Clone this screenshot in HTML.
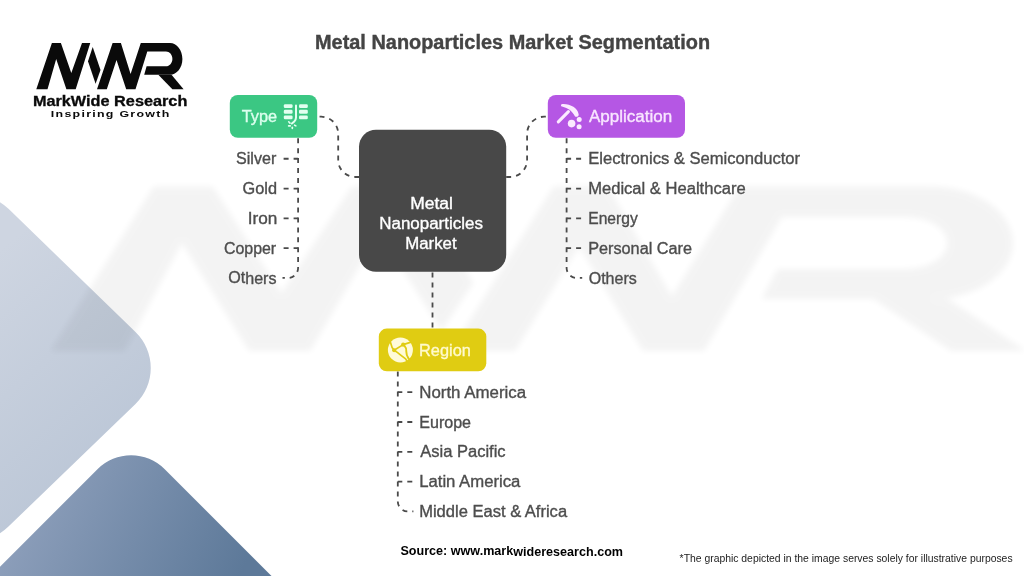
<!DOCTYPE html>
<html lang="en">
<head>
<meta charset="utf-8">
<title>Metal Nanoparticles Market Segmentation</title>
<style>
html,body{margin:0;padding:0;background:#fff;}
body{width:1024px;height:576px;overflow:hidden;position:relative;font-family:"Liberation Sans",sans-serif;}
svg{position:absolute;left:0;top:0;display:block;will-change:transform;}
text{font-family:"Liberation Sans",sans-serif;}
</style>
</head>
<body>
<svg width="1024" height="576" viewBox="0 0 1024 576">
<defs>
<linearGradient id="g1" gradientUnits="userSpaceOnUse" x1="0" y1="250" x2="150" y2="420">
<stop offset="0" stop-color="#ced5e1"/><stop offset="1" stop-color="#bcc7d7"/>
</linearGradient>
<linearGradient id="g2" gradientUnits="userSpaceOnUse" x1="40" y1="480" x2="240" y2="576">
<stop offset="0" stop-color="#8c9eba"/><stop offset="1" stop-color="#5d7999"/>
</linearGradient>
<filter id="blur" filterUnits="userSpaceOnUse" x="0" y="150" width="1024" height="240"><feGaussianBlur stdDeviation="3.2"/></filter>
</defs>
<rect width="1024" height="576" fill="#ffffff"/>

<path d="M-61.0 208.8 A50 50 0 0 1 8.5 208.8 L135.5 332.0 A50 50 0 0 1 135.5 403.9 L8.2 526.8 A50 50 0 0 1 -61.4 526.8 L-188.4 403.6 A50 50 0 0 1 -188.3 331.7 Z" fill="url(#g1)"/>
<path d="M-81.0 647.7 L97.7 469.0 A47.3 47.3 0 0 1 164.5 469.0 L343.2 647.7 L400 700 L-100 700 Z" fill="url(#g2)"/>
<g filter="url(#blur)" opacity="0.045"><g transform="matrix(6.5866 0 0 3.5546 -188.29 33.57)" fill="#000"><path d="M36.3 89.3 L51.9 43.05 L60.9 43.05 L71.3 73 L82 43.05 L90.25 43.05 L75.7 89.3 L66.4 89.3 L56.2 58.9 L47.5 89.3 Z"/>
<path d="M92.7 46.9 L100.5 70.1 L95.6 83.7 L88 61.3 Z"/>
<path d="M97 89.3 L112.6 43.05 L120.9 43.05 L130.6 74 L140.8 43.05 L170 43.05 C176.8 43.05 182.4 50.2 182.4 58.9 C182.4 67.6 176.8 74.7 170 74.7 L144.2 74.7 L146.6 66.2 L166 66.2 C169.5 66.2 172.4 63 172.4 58.9 C172.4 54.8 169.5 51.6 166 51.6 L147.3 51.6 L135.5 89.3 L126.2 89.3 L116.5 59.9 L106.8 89.3 Z"/>
<path d="M161.2 74.7 L172.5 74.7 L184.4 89.3 L173 89.3 Z"/></g></g>
<g fill="#0a0a0a" role="img" aria-label="MWR logo"><path d="M36.3 89.3 L51.9 43.05 L60.9 43.05 L71.3 73 L82 43.05 L90.25 43.05 L75.7 89.3 L66.4 89.3 L56.2 58.9 L47.5 89.3 Z"/>
<path d="M92.7 46.9 L100.5 70.1 L95.6 83.7 L88 61.3 Z"/>
<path d="M97 89.3 L112.6 43.05 L120.9 43.05 L130.6 74 L140.8 43.05 L170 43.05 C176.8 43.05 182.4 50.2 182.4 58.9 C182.4 67.6 176.8 74.7 170 74.7 L144.2 74.7 L146.6 66.2 L166 66.2 C169.5 66.2 172.4 63 172.4 58.9 C172.4 54.8 169.5 51.6 166 51.6 L147.3 51.6 L135.5 89.3 L126.2 89.3 L116.5 59.9 L106.8 89.3 Z"/>
<path d="M158.3 74.7 L171.5 74.7 L183.6 89.3 L172.4 89.3 Z"/></g>
<g fill="none" stroke="#4a4a4a" stroke-width="1.8" stroke-dasharray="5 5">
<path d="M359.2 177 H355.2 A17 17 0 0 1 338.2 160 V133.7 A17 17 0 0 0 321.2 116.7 H319.3"/>
<path d="M506.2 177 H510.2 A17 17 0 0 0 527.1 160 V133.7 A17 17 0 0 1 544.1 116.7 H546"/>
<path d="M432.5 272.5 V329"/>
<path d="M298.1 138.3 V267.95 A10 10 0 0 1 288.10 277.95 H282.50" stroke-dasharray="5 4.9"/>
<path d="M283.6 158.75 H298.1"/>
<path d="M283.6 188.55 H298.1"/>
<path d="M283.6 218.35 H298.1"/>
<path d="M283.6 248.15 H298.1"/>
<path d="M566.6 138.3 V267.95 A10 10 0 0 0 576.60 277.95 H582.20" stroke-dasharray="5 4.9"/>
<path d="M581.1 158.75 H566.6"/>
<path d="M581.1 188.55 H566.6"/>
<path d="M581.1 218.35 H566.6"/>
<path d="M581.1 248.15 H566.6"/>
<path d="M397.8 371.5 V501.40 A10 10 0 0 0 407.80 511.4 H413.40"/>
<path d="M412.3 392.2 H397.8"/>
<path d="M412.3 422.0 H397.8"/>
<path d="M412.3 451.8 H397.8"/>
<path d="M412.3 481.6 H397.8"/>
</g>
<rect x="359" y="129.7" width="147.2" height="142" rx="17" fill="#484848"/>
<rect x="229.8" y="95" width="87.4" height="42.8" rx="8" fill="#3bc783"/>
<rect x="547.8" y="95" width="137.2" height="42.8" rx="8" fill="#b557e4"/>
<rect x="378.8" y="328.6" width="107.5" height="42.7" rx="8" fill="#e0cc12"/>
<g fill="#e2fff0">
<rect x="283.8" y="104.2" width="8.8" height="3.9" rx="1.3"/>
<rect x="283.8" y="109.8" width="8.8" height="3.9" rx="1.3"/>
<rect x="283.8" y="115.4" width="8.8" height="3.9" rx="1.3"/>
<rect x="299.0" y="104.2" width="8.8" height="3.9" rx="1.3"/>
<rect x="299.0" y="109.8" width="8.8" height="3.9" rx="1.3"/>
<rect x="299.0" y="115.4" width="8.8" height="3.9" rx="1.3"/>
<path d="M296 105.6 V117.4 Q296 119.8 294.3 121.4 L291.9 123.6" fill="none" stroke="#e2fff0" stroke-width="2" stroke-linecap="round"/>
<g fill="none" stroke="#e2fff0" stroke-width="1.6" stroke-linecap="round"><path d="M288.7 121.8 L290 123.1"/><path d="M288.6 125.9 H290.3"/><path d="M292.3 127.2 V128.5"/><path d="M294.6 125.2 L295.9 125.9"/></g>
</g>
<g fill="#fbeaff">
<path d="M561.6 104.2 C569.5 103.4 577.6 107.8 578.7 114.4 C579 116.4 576.2 117.6 574.9 116.3 C572.6 111.6 568.2 108 562 106.6 C560.7 106.2 560.6 104.6 561.6 104.2 Z"/>
<path d="M568.4 111.7 L558.3 121.9" fill="none" stroke="#fbeaff" stroke-width="3.1" stroke-linecap="round"/>
<circle cx="571.6" cy="123.6" r="3.8"/><circle cx="579.2" cy="119.6" r="2.5"/><circle cx="579.1" cy="126.8" r="2.5"/>
</g>
<circle cx="400.4" cy="350" r="12.5" fill="#fffbd8"/>
<g fill="none" stroke="#e0cc12" stroke-width="1.7" stroke-linecap="round" stroke-linejoin="round">
<path d="M390.2 341.6 L392.1 347.4 L394.1 350.2 L403.2 344.6 L410.2 342.4"/>
<path d="M404.4 345.6 Q406.6 348 406.3 351.5 Q406.2 355 408.6 358.6 L410.4 360.2" stroke-width="1.9"/>
<path d="M394.1 350.2 L397.3 352.4 L400.7 355.1 L405.6 358.9 L407.4 361.8"/>
</g>
<circle cx="403.2" cy="344.7" r="2.1" fill="#e0cc12"/><circle cx="394.1" cy="350.2" r="2" fill="#e0cc12"/>
<g transform="rotate(0.02 512 288)">
<text x="32.84" y="106.4" font-size="14.0" fill="#0a0a0a" stroke="#0a0a0a" stroke-width="0.3" font-weight="bold" textLength="154.45" lengthAdjust="spacingAndGlyphs">MarkWide Research</text>
<text x="50.75" y="116.9" font-size="9.6" fill="#0a0a0a" font-weight="bold" letter-spacing="1.0" textLength="119.7" lengthAdjust="spacingAndGlyphs">Inspiring Growth</text>
<text x="314.92" y="49.0" font-size="20.3" fill="#444444" stroke="#444444" stroke-width="0.4" font-weight="bold" textLength="395.07" lengthAdjust="spacingAndGlyphs">Metal Nanoparticles Market Segmentation</text>
<text x="241.7" y="122.25" font-size="16.0" fill="#dcffee" stroke="#dcffee" stroke-width="0.35" textLength="35.3" lengthAdjust="spacingAndGlyphs">Type</text>
<text x="588.9" y="122.25" font-size="16.0" fill="#f9e6ff" stroke="#f9e6ff" stroke-width="0.35" textLength="83.17" lengthAdjust="spacingAndGlyphs">Application</text>
<text x="419.08" y="355.75" font-size="16.0" fill="#fffacc" stroke="#fffacc" stroke-width="0.35" textLength="51.75" lengthAdjust="spacingAndGlyphs">Region</text>
<text x="410.21" y="209.2" font-size="16.0" fill="#ffffff" stroke="#ffffff" stroke-width="0.35" textLength="42.72" lengthAdjust="spacingAndGlyphs">Metal</text>
<text x="379.24" y="229.2" font-size="16.0" fill="#ffffff" stroke="#ffffff" stroke-width="0.35" textLength="103.61" lengthAdjust="spacingAndGlyphs">Nanoparticles</text>
<text x="405.25" y="248.7" font-size="16.0" fill="#ffffff" stroke="#ffffff" stroke-width="0.35" textLength="51.34" lengthAdjust="spacingAndGlyphs">Market</text>
<text x="235.99" y="164.4" font-size="16.0" fill="#4d4d4d" stroke="#4d4d4d" stroke-width="0.35" textLength="40.21" lengthAdjust="spacingAndGlyphs">Silver</text>
<text x="242.59" y="194.2" font-size="16.0" fill="#4d4d4d" stroke="#4d4d4d" stroke-width="0.35" textLength="34.42" lengthAdjust="spacingAndGlyphs">Gold</text>
<text x="247.79" y="224.0" font-size="16.0" fill="#4d4d4d" stroke="#4d4d4d" stroke-width="0.35" textLength="29.56" lengthAdjust="spacingAndGlyphs">Iron</text>
<text x="223.9" y="253.8" font-size="16.0" fill="#4d4d4d" stroke="#4d4d4d" stroke-width="0.35" textLength="52.27" lengthAdjust="spacingAndGlyphs">Copper</text>
<text x="228.25" y="283.6" font-size="16.0" fill="#4d4d4d" stroke="#4d4d4d" stroke-width="0.35" textLength="48.27" lengthAdjust="spacingAndGlyphs">Others</text>
<text x="588.16" y="164.4" font-size="16.0" fill="#4d4d4d" stroke="#4d4d4d" stroke-width="0.35" textLength="211.87" lengthAdjust="spacingAndGlyphs">Electronics &amp; Semiconductor</text>
<text x="588.16" y="194.2" font-size="16.0" fill="#4d4d4d" stroke="#4d4d4d" stroke-width="0.35" textLength="157.43" lengthAdjust="spacingAndGlyphs">Medical &amp; Healthcare</text>
<text x="588.22" y="224.0" font-size="16.0" fill="#4d4d4d" stroke="#4d4d4d" stroke-width="0.35" textLength="49.48" lengthAdjust="spacingAndGlyphs">Energy</text>
<text x="588.18" y="253.8" font-size="16.0" fill="#4d4d4d" stroke="#4d4d4d" stroke-width="0.35" textLength="103.85" lengthAdjust="spacingAndGlyphs">Personal Care</text>
<text x="588.7" y="283.6" font-size="16.0" fill="#4d4d4d" stroke="#4d4d4d" stroke-width="0.35" textLength="48.07" lengthAdjust="spacingAndGlyphs">Others</text>
<text x="419.25" y="397.85" font-size="16.0" fill="#4d4d4d" stroke="#4d4d4d" stroke-width="0.35" textLength="106.86" lengthAdjust="spacingAndGlyphs">North America</text>
<text x="419.3" y="427.65" font-size="16.0" fill="#4d4d4d" stroke="#4d4d4d" stroke-width="0.35" textLength="51.8" lengthAdjust="spacingAndGlyphs">Europe</text>
<text x="420.3" y="457.45" font-size="16.0" fill="#4d4d4d" stroke="#4d4d4d" stroke-width="0.35" textLength="85.4" lengthAdjust="spacingAndGlyphs">Asia Pacific</text>
<text x="419.26" y="487.25" font-size="16.0" fill="#4d4d4d" stroke="#4d4d4d" stroke-width="0.35" textLength="101.18" lengthAdjust="spacingAndGlyphs">Latin America</text>
<text x="419.27" y="517.05" font-size="16.0" fill="#4d4d4d" stroke="#4d4d4d" stroke-width="0.35" textLength="147.89" lengthAdjust="spacingAndGlyphs">Middle East &amp; Africa</text>
<text x="400.5" y="555.5" font-size="12.7" fill="#000000" font-weight="bold" textLength="222.61" lengthAdjust="spacingAndGlyphs">Source: www.markwideresearch.com</text>
<text x="679.7" y="561.5" font-size="10.4" fill="#222222" textLength="333.0" lengthAdjust="spacingAndGlyphs">*The graphic depicted in the image serves solely for illustrative purposes</text>
</g>
</svg>
</body>
</html>
